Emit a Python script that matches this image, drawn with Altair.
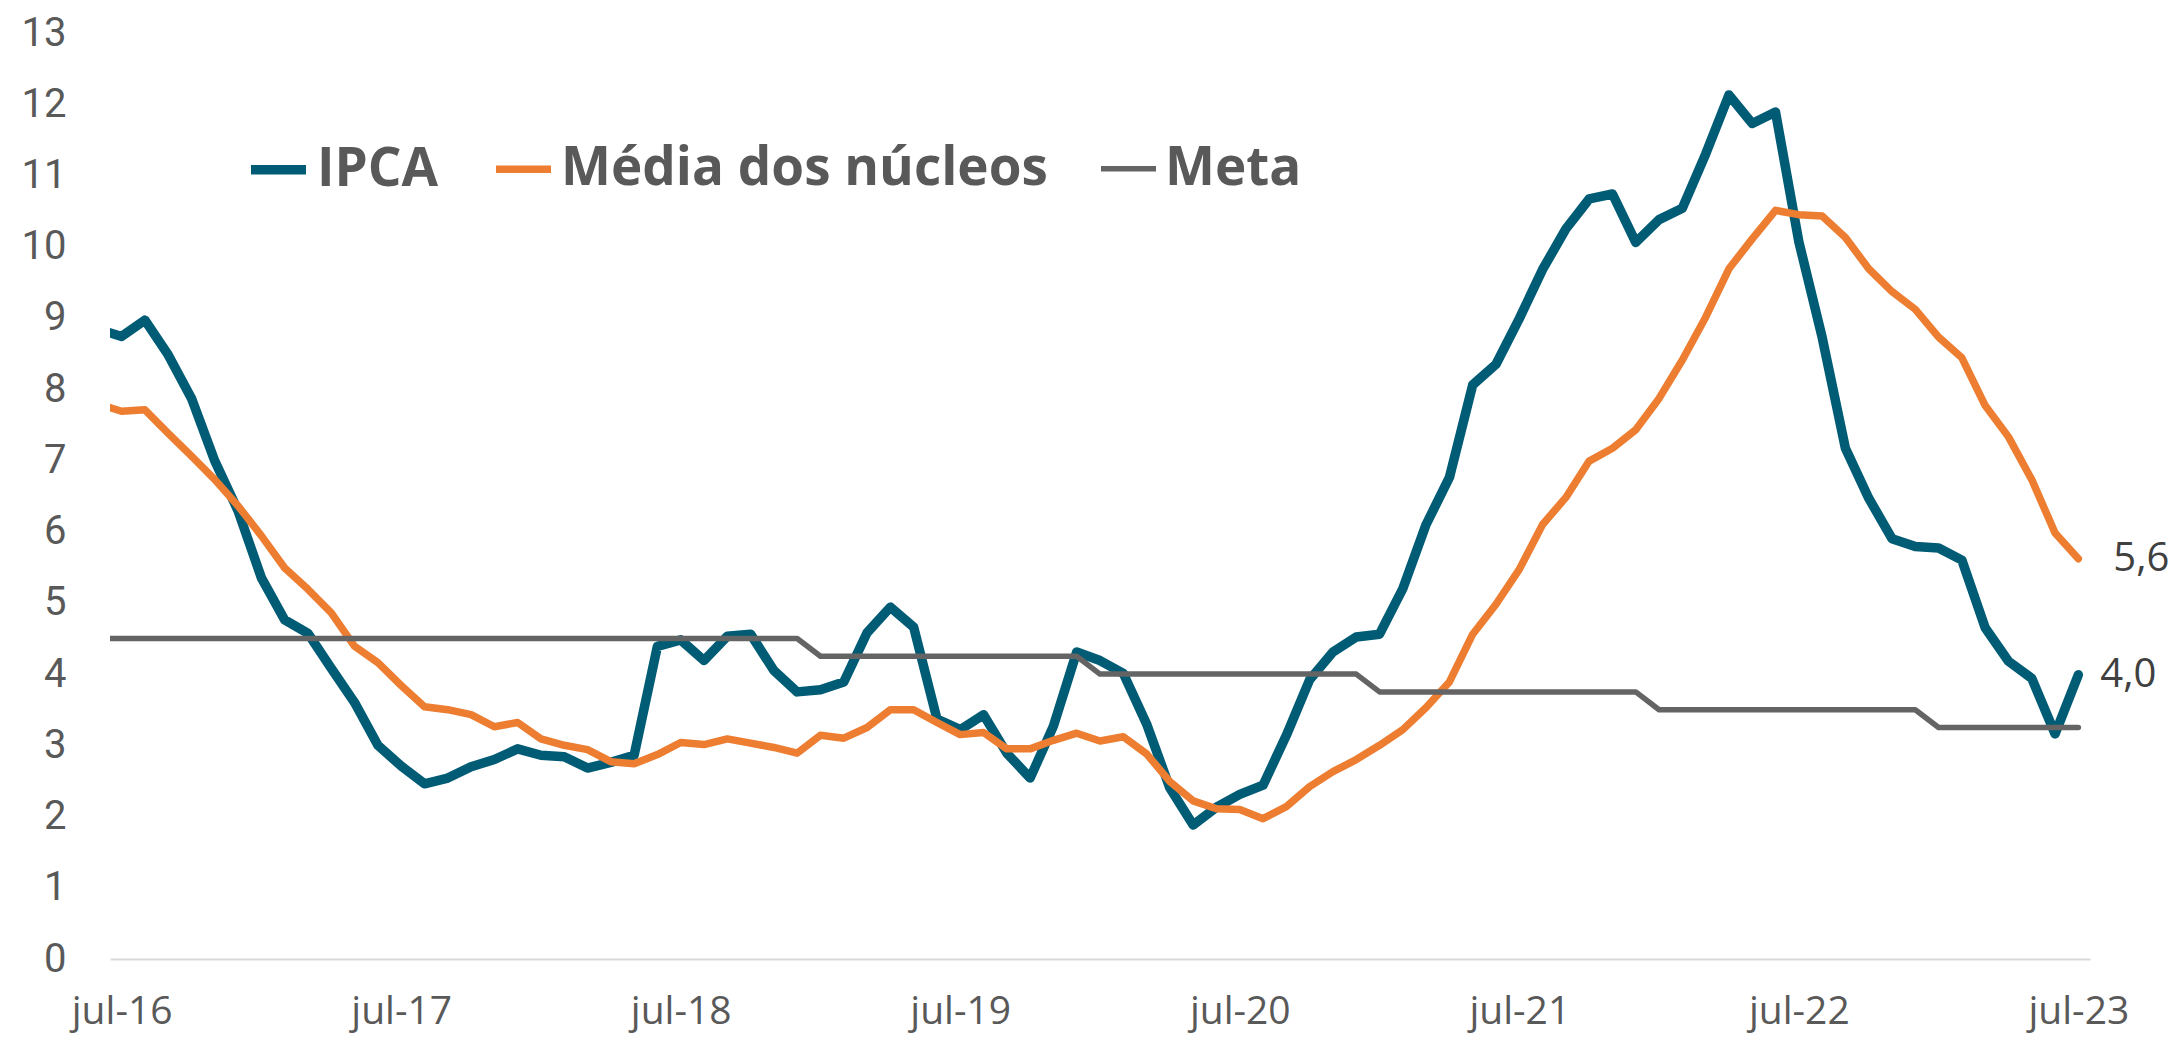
import json
import altair as alt
import pandas as pd

# month index: -1 = jun-16, 0 = jul-16 ... 84 = jul-23
tick_labels = ["jul-16", "jul-17", "jul-18", "jul-19", "jul-20", "jul-21", "jul-22", "jul-23"]
tick_pos = [0, 12, 24, 36, 48, 60, 72, 84]

series = ["IPCA", "Média dos núcleos", "Meta"]

ipca = [8.84, 8.74, 8.97, 8.48, 7.87, 6.99, 6.29, 5.35, 4.76, 4.57, 4.08, 3.60,
        3.00, 2.71, 2.46, 2.54, 2.70, 2.80, 2.95, 2.86, 2.84, 2.68, 2.76, 2.86,
        4.39, 4.48, 4.19, 4.53, 4.56, 4.05, 3.75, 3.78, 3.89, 4.58, 4.94, 4.66,
        3.37, 3.22, 3.43, 2.89, 2.54, 3.27, 4.31, 4.19, 4.01, 3.30, 2.40, 1.88,
        2.13, 2.31, 2.44, 3.14, 3.92, 4.31, 4.52, 4.56, 5.20, 6.10, 6.76, 8.06,
        8.35, 8.99, 9.68, 10.25, 10.67, 10.74, 10.06, 10.38, 10.54, 11.30, 12.13, 11.73,
        11.89, 10.07, 8.73, 7.17, 6.47, 5.90, 5.79, 5.77, 5.60, 4.65, 4.18, 3.94,
        3.16, 3.99]

nucleos = [7.79, 7.69, 7.71, 7.38, 7.06, 6.73, 6.36, 5.94, 5.49, 5.19, 4.86, 4.39,
           4.16, 3.84, 3.54, 3.50, 3.43, 3.26, 3.32, 3.09, 3.00, 2.94, 2.77, 2.74,
           2.87, 3.04, 3.01, 3.09, 3.03, 2.97, 2.89, 3.14, 3.10, 3.25, 3.50, 3.50,
           3.32, 3.15, 3.18, 2.95, 2.95, 3.07, 3.17, 3.06, 3.12, 2.88, 2.49, 2.22,
           2.11, 2.10, 1.97, 2.14, 2.42, 2.63, 2.80, 3.00, 3.22, 3.53, 3.89, 4.56,
           4.98, 5.47, 6.10, 6.48, 6.99, 7.17, 7.43, 7.87, 8.41, 9.01, 9.69, 10.11,
           10.51, 10.45, 10.43, 10.13, 9.69, 9.37, 9.12, 8.73, 8.44, 7.77, 7.33, 6.73,
           5.98, 5.62]

meta = [4.5, 4.5, 4.5, 4.5, 4.5, 4.5, 4.5, 4.5, 4.5, 4.5, 4.5, 4.5,
        4.5, 4.5, 4.5, 4.5, 4.5, 4.5, 4.5, 4.5, 4.5, 4.5, 4.5, 4.5,
        4.5, 4.5, 4.5, 4.5, 4.5, 4.5, 4.5, 4.25, 4.25, 4.25, 4.25, 4.25,
        4.25, 4.25, 4.25, 4.25, 4.25, 4.25, 4.25, 4.0, 4.0, 4.0, 4.0, 4.0,
        4.0, 4.0, 4.0, 4.0, 4.0, 4.0, 4.0, 3.75, 3.75, 3.75, 3.75, 3.75,
        3.75, 3.75, 3.75, 3.75, 3.75, 3.75, 3.75, 3.5, 3.5, 3.5, 3.5, 3.5,
        3.5, 3.5, 3.5, 3.5, 3.5, 3.5, 3.5, 3.25, 3.25, 3.25, 3.25, 3.25,
        3.25, 3.25]

months = list(range(-1, 85))

rows = []
for name, vals in zip(series, [ipca, nucleos, meta]):
    for m, v in zip(months, vals):
        rows.append({"m": m, "v": v, "serie": name})
df = pd.DataFrame(rows)

colors = ["#005B74", "#ED7D31", "#646464"]
widths = [9.5, 5.5, 5]
FONT = "Open Sans"
GRAY = "#595959"

label_expr = json.dumps(tick_labels) + "[round(datum.value / 12)]"

leg = alt.Legend(
    title=None, orient="none", legendX=136, legendY=104, direction="horizontal",
    symbolType="stroke", symbolSize=3025, labelFontSize=53, labelFont=FONT,
    labelFontWeight="bold", labelColor=GRAY, labelOffset=6, columnPadding=42,
    padding=0, labelLimit=0,
)

lines = alt.Chart(df).mark_line(clip=True, strokeCap="round", strokeJoin="round").encode(
    x=alt.X("m:Q",
            scale=alt.Scale(domain=[-0.5, 84.5], nice=False, zero=False),
            axis=alt.Axis(values=tick_pos, labelExpr=label_expr, title=None, grid=False,
                          ticks=False, tickSize=0, domainColor="#D9D9D9", domainWidth=2,
                          labelFont=FONT, labelFontSize=39, labelColor=GRAY,
                          labelPadding=33, labelFlush=False)),
    y=alt.Y("v:Q",
            scale=alt.Scale(domain=[0, 13], nice=False),
            axis=alt.Axis(values=list(range(0, 14)), format="d", title=None, grid=False,
                          ticks=False, tickSize=0, domain=False, labelFont="Roboto",
                          labelFontSize=40, labelColor=GRAY, labelPadding=44)),
    color=alt.Color("serie:N", scale=alt.Scale(domain=series, range=colors), legend=leg),
    strokeWidth=alt.StrokeWidth("serie:N", scale=alt.Scale(domain=series, range=widths), legend=leg),
)


def fmt(v):
    return f"{v:.1f}".replace(".", ",")


lab_nuc = pd.DataFrame({"m": [months[-1]], "v": [nucleos[-1]], "t": [fmt(nucleos[-1])]})
lab_ipca = pd.DataFrame({"m": [months[-1]], "v": [ipca[-1]], "t": [fmt(ipca[-1])]})

t1 = alt.Chart(lab_nuc).mark_text(align="left", baseline="middle", dx=35, fontSize=40,
                                  font=FONT, color="#404040").encode(
    x="m:Q", y="v:Q", text="t:N")
t2 = alt.Chart(lab_ipca).mark_text(align="left", baseline="middle", dx=22, fontSize=40,
                                   font=FONT, color="#404040").encode(
    x="m:Q", y="v:Q", text="t:N")

chart = alt.layer(lines, t1, t2).properties(
    width=1980, height=926,
    autosize=alt.AutoSizeParams(type="none"),
    padding={"left": 102, "top": 25, "right": 79, "bottom": 80},
).configure_view(stroke=None)

chart.save("out.html", embed_options={"renderer": "svg", "actions": False})
